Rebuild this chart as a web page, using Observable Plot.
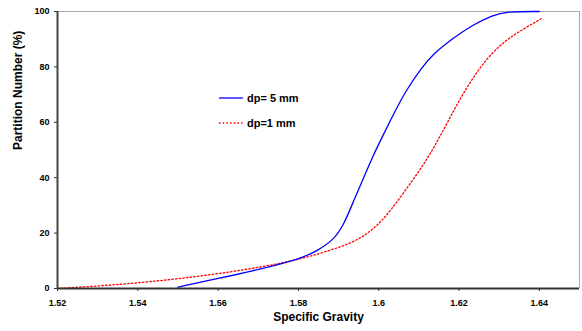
<!DOCTYPE html>
<html>
<head>
<meta charset="utf-8">
<script src="https://cdn.jsdelivr.net/npm/d3@7"></script>
<script src="https://cdn.jsdelivr.net/npm/@observablehq/plot@0.6"></script>
<style>
  html, body { margin: 0; padding: 0; background: #fff; }
  #wrap { position: relative; width: 582px; height: 331px; font-family: "Liberation Sans", Arial, sans-serif; }
  .leg { position: absolute; font-weight: bold; font-size: 11px; color: #000; display: flex; align-items: center; }
  .leg svg { margin-right: 4px; }
</style>
</head>
<body>
<div id="wrap"></div>
<script>
// Series dp = 5 mm (blue, solid)
const sg5 = [1.550, 1.560, 1.570, 1.5805, 1.5847, 1.5888, 1.5913, 1.5938, 1.5963, 1.5988, 1.6005, 1.6038, 1.6067, 1.6108, 1.6135, 1.6183, 1.6233, 1.6283, 1.6317, 1.6400];
const pn5 = [0.5,   3.6,   6.8,   10.7,   13.6,   17.6,   23.0,   31.8,   40.2,   48.6,   53.6,   63.3,   71.3,   79.9,   84.6,   90.2,   95.1,   98.6,   100,    100];
// Series dp = 1 mm (red, dotted)
const sg1 = [1.520, 1.530, 1.540, 1.550, 1.560, 1.5705, 1.5805, 1.5905, 1.5955, 1.5997, 1.6030, 1.6063, 1.6097, 1.6125, 1.6150, 1.6175, 1.6200, 1.6230, 1.6263, 1.6305, 1.6347, 1.6405];
const pn1 = [0,     0.9,   2.0,   3.5,   5.3,   7.7,    10.5,   14.9,   18.0,   22.7,   28.2,   34.8,   41.6,   47.8,   54.2,   61.0,   67.8,   75.0,   82.0,   88.3,   92.6,   97.4];
const xTicks = [1.52, 1.54, 1.56, 1.58, 1.60, 1.62, 1.64];
const yTicks = [0, 20, 40, 60, 80, 100];
const seriesNames = ["dp= 5 mm", "dp=1 mm"];

const d5 = sg5.map((x, i) => ({x, y: pn5[i]}));
const d1 = sg1.map((x, i) => ({x, y: pn1[i]}));

const chart = Plot.plot({
  width: 582,
  height: 331,
  marginLeft: 57,
  marginRight: 3,
  marginTop: 11,
  marginBottom: 43,
  style: { fontFamily: "Liberation Sans, Arial, sans-serif", background: "#fff", overflow: "visible" },
  x: { domain: [1.52, 1.65], ticks: xTicks, tickFormat: d => String(+d.toFixed(2)), label: null },
  y: { domain: [0, 100], ticks: yTicks, label: null },
  marks: [
    Plot.ruleY([100], { stroke: "#aaa", strokeWidth: 1 }),
    Plot.ruleX([1.65], { stroke: "#aaa", strokeWidth: 1 }),
    Plot.line(d1, { x: "x", y: "y", stroke: "#ff0000", strokeWidth: 1.3, strokeDasharray: "1.5,2.2", curve: "basis" }),
    Plot.line(d5, { x: "x", y: "y", stroke: "#0000ff", strokeWidth: 1.3, curve: "basis" }),
    Plot.axisX({ ticks: xTicks, tickFormat: d => String(+d.toFixed(2)), tickSize: 3, tickPadding: 8, fontSize: 9, fontWeight: "bold", stroke: "#333", label: null }),
    Plot.axisY({ ticks: yTicks, tickSize: 3, tickPadding: 5, fontSize: 9, fontWeight: "bold", stroke: "#333", label: null }),
    Plot.ruleX([1.52], { stroke: "#444", strokeWidth: 2 }),
    Plot.ruleY([0], { stroke: "#333", strokeWidth: 2 }),
    Plot.text(["Specific Gravity"], { frameAnchor: "bottom", dy: 32, fontSize: 12, fontWeight: "bold", fill: "#000" }),
    Plot.text(["Partition Number (%)"], { frameAnchor: "left", dx: -39, rotate: -90, fontSize: 12, fontWeight: "bold", fill: "#000" })
  ]
});
const wrap = document.getElementById("wrap");
wrap.appendChild(chart);

const legendItems = [
  { name: seriesNames[0], color: "#0000ff", dash: null, top: 92 },
  { name: seriesNames[1], color: "#ff0000", dash: "1.5,2.2", top: 117 }
];
for (const it of legendItems) {
  const div = document.createElement("div");
  div.className = "leg";
  div.style.left = "219px";
  div.style.top = it.top + "px";
  div.innerHTML = `<svg width="24" height="12"><line x1="0" y1="6" x2="24" y2="6" stroke="${it.color}" stroke-width="1.3" ${it.dash ? `stroke-dasharray="${it.dash}"` : ""}/></svg><span>${it.name}</span>`;
  wrap.appendChild(div);
}
</script>
</body>
</html>
